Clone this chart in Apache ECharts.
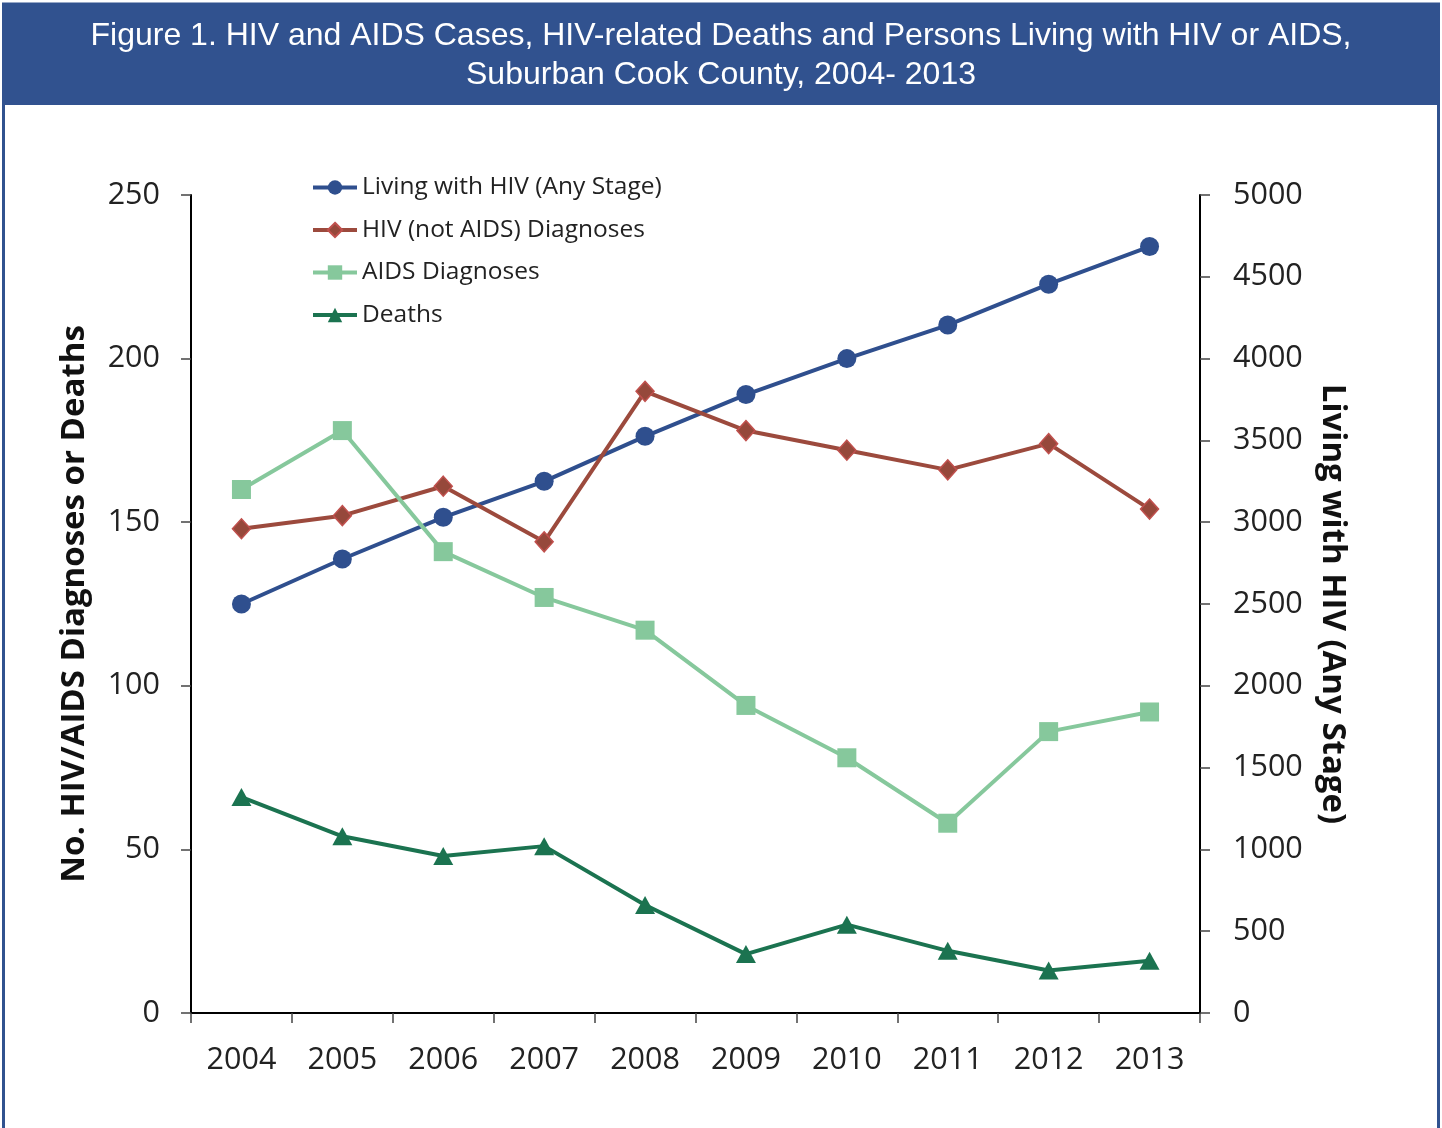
<!DOCTYPE html>
<html>
<head>
<meta charset="utf-8">
<script src="https://cdn.jsdelivr.net/npm/echarts@6/dist/echarts.min.js"></script>
<style>
  html, body { margin: 0; padding: 0; background: #fff; }
  #main { width: 1442px; height: 1128px; }
</style>
</head>
<body>
<div id="main"></div>
<script>
var years = ['2004', '2005', '2006', '2007', '2008', '2009', '2010', '2011', '2012', '2013'];
var livingHiv = [2500, 2775, 3030, 3250, 3525, 3780, 4000, 4205, 4455, 4685];
var hivNotAids = [148, 152, 161, 144, 190, 178, 172, 166, 174, 154];
var aidsDiag = [160, 178, 141, 127, 117, 94, 78, 58, 86, 92];
var deaths = [66, 54, 48, 51, 33, 18, 27, 19, 13, 16];

var blue = '#31528f';
var tickFont = 'Open Sans, Noto Sans, sans-serif';

var myChart = echarts.init(document.getElementById('main'));

option = {
    backgroundColor: '#fff',
    animation: false,
    graphic: [
        // title bar
        {
            type: 'rect',
            shape: { x: 2, y: 3, width: 1438, height: 102 },
            style: { fill: blue }
        },
        // frame
        {
            type: 'rect',
            shape: { x: 3.5, y: 4, width: 1435, height: 1140 },
            style: { fill: 'none', stroke: blue, lineWidth: 3 }
        },
        {
            type: 'text',
            x: 721,
            y: 56,
            style: {
                text: 'Figure 1. HIV and AIDS Cases, HIV-related Deaths and Persons Living with HIV or AIDS,\nSuburban Cook County, 2004- 2013',
                fill: '#fff',
                font: '32px "Liberation Sans", Arial, sans-serif',
                align: 'center',
                verticalAlign: 'middle',
                lineHeight: 39
            }
        }
    ],
    legend: {
        orient: 'vertical',
        left: 306,
        top: 170,
        itemWidth: 44,
        itemHeight: 18,
        itemGap: 17.5,
        lineStyle: { width: 4 },
        textStyle: { fontSize: 24.5, color: '#222', fontFamily: tickFont },
        data: ['Living with HIV (Any Stage)', 'HIV (not AIDS) Diagnoses', 'AIDS Diagnoses', 'Deaths']
    },
    grid: {
        left: 191,
        right: 242,
        top: 195,
        bottom: 115,
        containLabel: false
    },
    xAxis: {
        type: 'category',
        data: years,
        boundaryGap: true,
        axisLine: { lineStyle: { color: '#000', width: 2 } },
        axisTick: { show: true, length: 10, lineStyle: { color: '#444', width: 1.5 } },
        axisLabel: { fontSize: 30.5, color: '#222', fontFamily: tickFont, margin: 32 }
    },
    yAxis: [
        {
            type: 'value',
            min: 0,
            max: 250,
            interval: 50,
            position: 'left',
            name: 'No. HIV/AIDS Diagnoses or Deaths',
            nameLocation: 'middle',
            nameGap: 100,
            nameTextStyle: { fontSize: 33, fontWeight: 'bold', color: '#111', fontFamily: tickFont },
            axisLine: { show: true, lineStyle: { color: '#000', width: 2 } },
            axisTick: { show: true, length: 10, lineStyle: { color: '#444', width: 1.5 } },
            axisLabel: { fontSize: 30.5, color: '#222', fontFamily: tickFont, margin: 31 },
            splitLine: { show: false }
        },
        {
            type: 'value',
            min: 0,
            max: 5000,
            interval: 500,
            position: 'right',
            name: 'Living with HIV (Any Stage)',
            nameLocation: 'middle',
            nameRotate: -90,
            nameGap: 116,
            nameTextStyle: { fontSize: 33, fontWeight: 'bold', color: '#111', fontFamily: tickFont },
            axisLine: { show: true, lineStyle: { color: '#000', width: 2 } },
            axisTick: { show: true, length: 10, lineStyle: { color: '#444', width: 1.5 } },
            axisLabel: { fontSize: 30.5, color: '#222', fontFamily: tickFont, margin: 33, formatter: function (v) { return String(v); } },
            splitLine: { show: false }
        }
    ],
    series: [
        {
            name: 'Living with HIV (Any Stage)',
            type: 'line',
            yAxisIndex: 1,
            data: livingHiv,
            symbol: 'circle',
            symbolSize: 19,
            lineStyle: { color: '#2f4f8e', width: 4 },
            itemStyle: { color: '#2f4f8e' }
        },
        {
            name: 'HIV (not AIDS) Diagnoses',
            type: 'line',
            yAxisIndex: 0,
            data: hivNotAids,
            symbol: 'diamond',
            symbolSize: [18, 20],
            lineStyle: { color: '#9c4a3d', width: 4 },
            itemStyle: { color: '#96483b', borderColor: '#c0504d', borderWidth: 1.5 }
        },
        {
            name: 'AIDS Diagnoses',
            type: 'line',
            yAxisIndex: 0,
            data: aidsDiag,
            symbol: 'rect',
            symbolSize: 19,
            lineStyle: { color: '#86c89c', width: 4 },
            itemStyle: { color: '#86c89c' }
        },
        {
            name: 'Deaths',
            type: 'line',
            yAxisIndex: 0,
            data: deaths,
            symbol: 'triangle',
            symbolSize: [20, 18],
            lineStyle: { color: '#1b7350', width: 4 },
            itemStyle: { color: '#1b7350' }
        }
    ]
};

myChart.setOption(option);
</script>
</body>
</html>
